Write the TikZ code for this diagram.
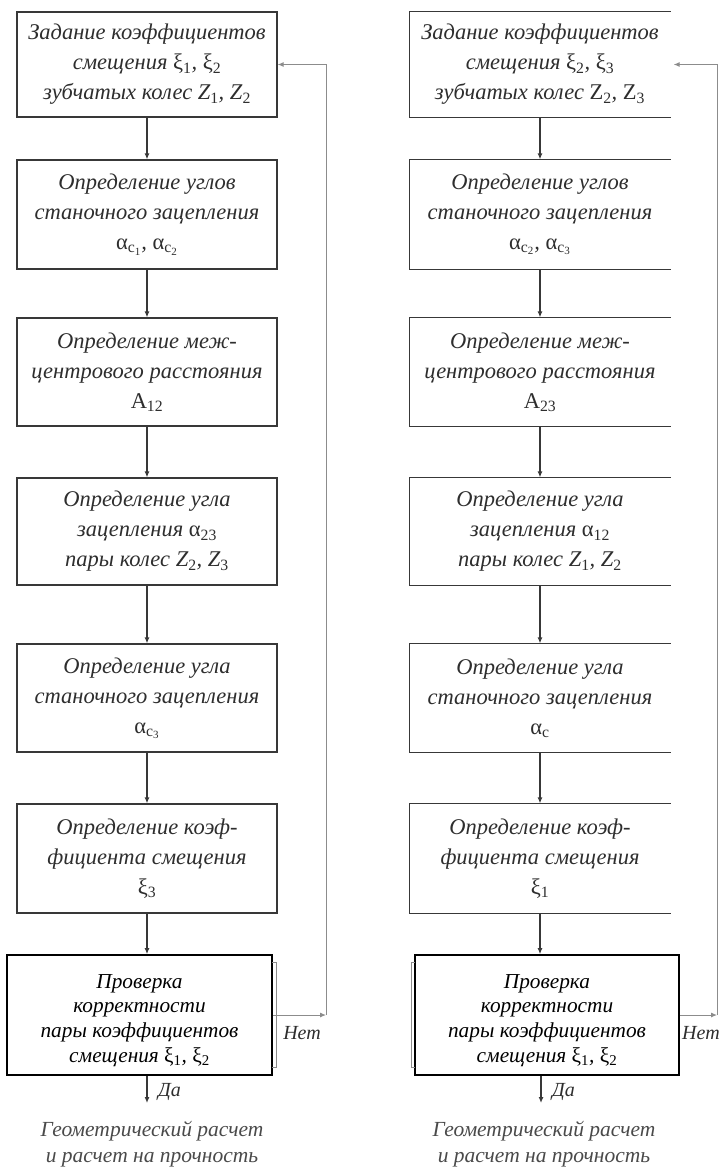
\documentclass[tikz,border=0pt]{standalone}
\usepackage{fontspec}
\setmainfont{Liberation Serif}
\usetikzlibrary{arrows.meta,calc}
\newcommand\xii[1]{\textup{ξ}\textsubscript{\upshape #1}}
\newcommand\alp[1]{\textup{α}\textsubscript{\upshape #1}}
\newcommand\zi[1]{\textit{Z}\textsubscript{\upshape #1}}
\newcommand\zu[1]{\textup{Z}\textsubscript{\upshape #1}}
\begin{document}
\begin{tikzpicture}[x=1pt,y=-1pt,
  box/.style={draw=boxc,line width=1.2pt,minimum width=260pt,align=center,inner sep=0pt,
    font=\fontsize{22.5}{30}\selectfont\itshape,text=txt},
  obox/.style={box,draw=none},
  check/.style={draw=black,line width=1.6pt,align=center,inner sep=0pt,fill=white,
    font=\fontsize{21.3}{24.8}\selectfont\itshape,text=black},
  arr/.style={draw=boxc,line width=1.2pt,-{Latex[length=6pt,width=5pt]}},
  fb/.style={draw=fbc,line width=1pt,-{Latex[length=6pt,width=5pt]}},
  lbl/.style={font=\fontsize{20}{22}\selectfont\itshape,text=txt,inner sep=0pt},
  res/.style={font=\fontsize{21.5}{26.5}\selectfont\itshape,text=res,align=center,inner sep=0pt}]
\definecolor{boxc}{HTML}{383838}
\definecolor{fbc}{HTML}{8C8C8C}
\definecolor{txt}{HTML}{2E2E2E}
\definecolor{res}{HTML}{4A4A4A}
\useasboundingbox (0,0) rectangle (725,1168);
\fill[white] (0,0) rectangle (725,1168);

% ---------- left column ----------
\node[box,minimum height=105pt] (L1) at (147,64.5) {Задание коэффициентов\\смещения \xii{1}, \xii{2}\\зубчатых колес \zi{1}, \zi{2}};
\node[box,minimum height=109pt] (L2) at (147,214.5) {Определение углов\\станочного зацепления\\\alp{c\textsubscript{1}}, \alp{c\textsubscript{2}}};
\node[box,minimum height=108pt] (L3) at (147,372) {Определение меж-\\центрового расстояния\\\textup{A}\textsubscript{\upshape 12}};
\node[box,minimum height=107pt] (L4) at (147,531.5) {Определение угла\\зацепления \alp{23}\\пары колес \zi{2}, \zi{3}};
\node[box,minimum height=108pt] (L5) at (147,698) {Определение угла\\станочного зацепления\\\alp{c\textsubscript{3}}};
\node[box,minimum height=109pt] (L6) at (147,858.5) {Определение коэф-\\фициента смещения\\\xii{3}};
\node[check,minimum width=265pt,minimum height=120pt] (L7) at (139.5,1015) {\mbox{}\\Проверка\\корректности\\пары коэффициентов\\смещения \xii{1}, \xii{2}};

\draw[arr] (L1.south) -- (L2.north);
\draw[arr] (L2.south) -- (L3.north);
\draw[arr] (L3.south) -- (L4.north);
\draw[arr] (L4.south) -- (L5.north);
\draw[arr] (L5.south) -- (L6.north);
\draw[arr] (L6.south) -- (L6.south |- L7.north);
\draw[fbc,line width=1pt] (272,962) -- (276,962) -- (276,1067) -- (272,1067);

\coordinate (LC) at (326,1015);
\coordinate (LD) at (147,1103);
\draw[fb] (L7.east) -- (LC);
\draw[fb] (LC) |- (L1.east);
\node[lbl,anchor=north] (LN) at (302,1026) {Нет};
\draw[arr] (L7.south -| LD) -- (LD);
\node[lbl,anchor=west] (LY) at (158,1092) {Да};
\node[res] (LR) at (152,1144) {Геометрический расчет\\и расчет на прочность};

% ---------- right column ----------
\node[obox,minimum height=105pt] (R1) at (540,64.5) {Задание коэффициентов\\смещения \xii{2}, \xii{3}\\зубчатых колес \zu{2}, \zu{3}};
\node[obox,minimum height=109pt] (R2) at (540,214.5) {Определение углов\\станочного зацепления\\\alp{c\textsubscript{2}}, \alp{c\textsubscript{3}}};
\node[obox,minimum height=108pt] (R3) at (540,372) {Определение меж-\\центрового расстояния\\\textup{A}\textsubscript{\upshape 23}};
\node[obox,minimum height=107pt] (R4) at (540,531.5) {Определение угла\\зацепления \alp{12}\\пары колес \zi{1}, \zi{2}};
\node[obox,minimum height=108pt] (R5) at (540,698) {Определение угла\\станочного зацепления\\\alp{c}};
\node[obox,minimum height=109pt] (R6) at (540,858.5) {Определение коэф-\\фициента смещения\\\xii{1}};
\foreach \n in {R1,R2,R3,R4,R5,R6}
  \draw[boxc,line width=1.2pt] (\n.north east) -- (\n.north west) -- (\n.south west) -- (\n.south east);
\node[check,minimum width=264pt,minimum height=120pt] (R7) at (547,1015) {\mbox{}\\Проверка\\корректности\\пары коэффициентов\\смещения \xii{1}, \xii{2}};

\draw[arr] (R1.south) -- (R2.north);
\draw[arr] (R2.south) -- (R3.north);
\draw[arr] (R3.south) -- (R4.north);
\draw[arr] (R4.south) -- (R5.north);
\draw[arr] (R5.south) -- (R6.north);
\draw[arr] (R6.south) -- (R6.south |- R7.north);
\draw[fbc,line width=1pt] (415,962) -- (411,962) -- (411,1067) -- (415,1067);

\coordinate (RC) at (717,1015);
\coordinate (RD) at (541,1103);
\draw[fb] (R7.east) -- (RC);
\draw[fb] (RC) |- ([xshift=3pt]R1.east);
\node[lbl,anchor=north west] (RN) at (682,1026) {Нет};
\draw[arr] (R7.south -| RD) -- (RD);
\node[lbl,anchor=west] (RY) at (552,1092) {Да};
\node[res] (RR) at (544,1144) {Геометрический расчет\\и расчет на прочность};
\end{tikzpicture}
\end{document}
